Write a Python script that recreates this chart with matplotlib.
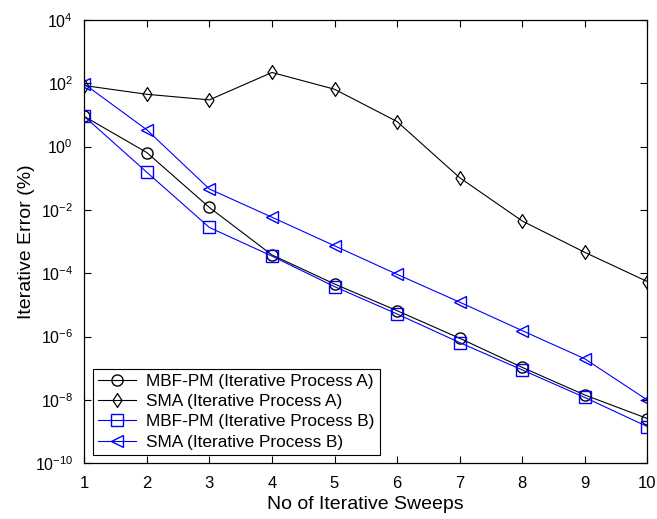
import matplotlib
matplotlib.use('Agg')
import matplotlib.pyplot as plt
from matplotlib.ticker import NullLocator

plt.rcParams['font.family'] = ['Liberation Sans', 'DejaVu Sans']
plt.rcParams['mathtext.fontset'] = 'custom'
plt.rcParams['mathtext.rm'] = 'Liberation Sans'
plt.rcParams['mathtext.default'] = 'regular'

sweeps = [1, 2, 3, 4, 5, 6, 7, 8, 9, 10]
mbf_a = [9.0, 0.65, 0.012, 3.8e-4, 4.6e-5, 6.6e-6, 8.9e-7, 1.07e-7, 1.44e-8, 2.6e-9]
sma_a = [85, 45, 30, 220, 65, 6.2, 0.105, 0.0045, 4.6e-4, 5.5e-5]
mbf_b = [9.0, 0.155, 0.0028, 3.5e-4, 3.8e-5, 5.2e-6, 6.5e-7, 8.9e-8, 1.2e-8, 1.45e-9]
sma_b = [95, 3.4, 0.046, 0.0059, 7.4e-4, 9.3e-5, 1.23e-5, 1.55e-6, 2.0e-7, 1.0e-8]
y_exponents = [-10, -8, -6, -4, -2, 0, 2, 4]

labels = ['MBF-PM (Iterative Process A)', 'SMA (Iterative Process A)',
          'MBF-PM (Iterative Process B)', 'SMA (Iterative Process B)']

# tall narrow diamond, like the MATLAB one
diamond = [(0, 1), (0.65, 0), (0, -1), (-0.65, 0), (0, 1)]

fig = plt.figure(figsize=(6.57, 5.19), dpi=100)
ax = fig.add_axes([0.1283, 0.1073, 0.8569, 0.8542])

ax.semilogy(sweeps, mbf_a, color='black', marker='o', mfc='none', ms=8, lw=0.8, label=labels[0])
ax.semilogy(sweeps, sma_a, color='black', marker=diamond, mfc='none', ms=10, mew=0.9, lw=0.8, label=labels[1])
ax.semilogy(sweeps, mbf_b, color='blue', marker='s', mfc='none', ms=8, lw=0.8, label=labels[2])
ax.semilogy(sweeps, sma_b, color='blue', marker='<', mfc='none', ms=9, lw=0.8, label=labels[3])

ax.set_xlim(1, 10)
ax.set_ylim(1e-10, 1e4)
ax.set_xticks(sweeps)
ax.set_yticks([10.0 ** e for e in y_exponents],
              ['$10^{%d}$' % e for e in y_exponents])
ax.yaxis.set_minor_locator(NullLocator())
ax.tick_params(direction='in', top=True, right=True, labelsize=12, length=5, width=0.8)
ax.tick_params(axis='x', pad=9)
ax.tick_params(axis='y', pad=8, labelsize=11.5)
for s in ax.spines.values():
    s.set_linewidth(0.9)

ax.set_xlabel('No of Iterative Sweeps', fontsize=14, labelpad=4)
ax.set_ylabel('Iterative Error (%)', fontsize=14)
ax.yaxis.set_label_coords(-0.087, 0.5)

leg = ax.legend(loc='lower left', fontsize=12.4, fancybox=False, edgecolor='black',
                framealpha=1, handlelength=2.2, borderpad=0.3, labelspacing=0.3,
                handletextpad=0.6, borderaxespad=0.5)
leg.get_frame().set_linewidth(0.8)

fig.savefig('out.png', dpi=100)
